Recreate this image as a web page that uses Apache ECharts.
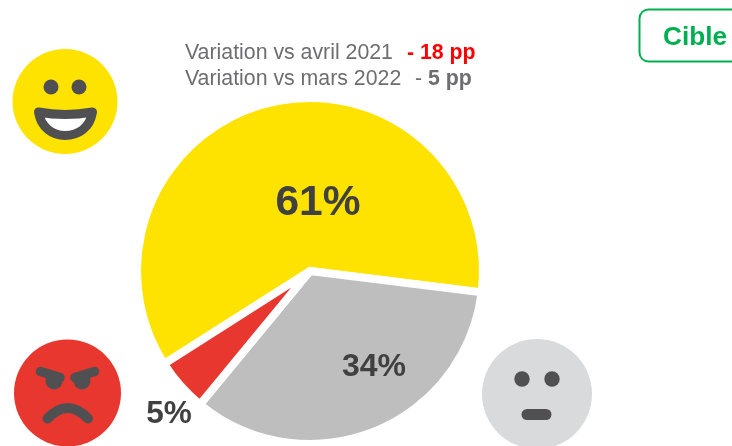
<!DOCTYPE html>
<html><head><meta charset="utf-8">
<style>html,body{margin:0;padding:0;background:#fff}#c{width:732px;height:446px}</style>
<script src="https://cdn.jsdelivr.net/npm/echarts@6/dist/echarts.min.js"></script>
</head><body><div id="c"></div>
<script>
const categories = ['Satisfaits', 'Neutres', 'Insatisfaits'];
const values = [61, 34, 5];
const sliceColors = ['#FFE300', '#BEBEBE', '#E8372E'];
const subtitleLine1 = ['Variation vs avril 2021', '- 18 pp'];
const subtitleLine2 = ['Variation vs mars 2022', '-', '5 pp'];
const targetLabel = 'Cible';

const FONT = '"Liberation Sans", Arial, sans-serif';
const INK = '#505052', TXT = '#404040', GREY = '#6E6E70';
const labelBoxes = [
  {x: 318, y: 203, size: 42.5},
  {x: 374, y: 367, size: 32},
  {x: 169, y: 414, size: 31.5}
];
echarts.graphic.registerShape('smileMouth',
  echarts.graphic.extendPath('M38.5 112 Q65 117 92.5 112 C90 128 78 135.5 65 135.5 C53 135.5 41 128 38.5 112 Z', {}));
echarts.graphic.registerShape('frownMouth',
  echarts.graphic.extendPath('M47.5 418.5 Q67.5 397.5 88 418.5', {}));
const circle = (cx, cy, r, fill) => ({type: 'circle', shape: {cx, cy, r}, style: {fill}});
function line(x1, y1, x2, y2, w) {
  return {type: 'line', shape: {x1, y1, x2, y2}, style: {stroke: INK, lineWidth: w, lineCap: 'round'}};
}
function txt(x, y, text, size, fill, bold) {
  return {type: 'text', x, y, style: {text, x: 0, y: 0, fill, font: (bold ? 'bold ' : '') + size + 'px ' + FONT,
          textAlign: 'left', textVerticalAlign: 'middle'}};
}
const chart = echarts.init(document.getElementById('c'), null, {renderer: 'canvas'});
chart.setOption({
  animation: false,
  backgroundColor: '#fff',
  series: [{
    type: 'pie',
    center: [310, 271],
    radius: [0, 173],
    startAngle: 212.5,
    clockwise: true,
    silent: true,
    data: categories.map((name, i) => ({
      name, value: values[i],
      itemStyle: {color: sliceColors[i]},
      label: {fontSize: labelBoxes[i].size}
    })),
    itemStyle: {borderColor: '#fff', borderWidth: 8},
    label: {
      show: true, position: 'inside', formatter: '{c}%',
      color: TXT, fontWeight: 'bold', fontFamily: FONT
    },
    labelLine: {show: false},
    labelLayout: p => ({x: labelBoxes[p.dataIndex].x, y: labelBoxes[p.dataIndex].y, align: 'center', verticalAlign: 'middle'})
  }],
  graphic: {elements: [
    // Happy face
    circle(65, 101.5, 52.5, '#FFE300'),
    circle(51, 87, 7.5, INK), circle(79, 87, 7.5, INK),
    {type: 'smileMouth', style: {fill: '#fff', stroke: INK, lineWidth: 9, lineJoin: 'round'}},
    // Angry face
    circle(67.5, 393, 53.5, '#E8372E'),
    line(40.5, 371.5, 60, 377.5, 9.5), line(94.5, 371.5, 75, 377.5, 9.5),
    circle(54, 381, 8.5, INK), circle(82, 381, 8.5, INK),
    {type: 'frownMouth', style: {fill: 'none', stroke: INK, lineWidth: 10, lineCap: 'round'}},
    // Neutral face
    circle(537, 394, 55, '#D9DADC'),
    circle(522, 379, 7.7, INK), circle(552, 379, 7.7, INK),
    {type: 'rect', shape: {x: 521.5, y: 409, width: 30, height: 11, r: 5.5}, style: {fill: INK}},
    // Sub-title lines
    txt(185, 53, subtitleLine1[0], 21.3, GREY, false),
    txt(407, 53, subtitleLine1[1], 21.3, '#FF0000', true),
    txt(185, 79, subtitleLine2[0], 21.3, GREY, false),
    txt(415, 79, subtitleLine2[1], 21.3, GREY, false),
    txt(428, 79, subtitleLine2[2], 21.3, GREY, true),
    // Target box
    {type: 'rect', shape: {x: 639.5, y: 9.5, width: 130, height: 52, r: 9},
     style: {fill: '#fff', stroke: '#00B050', lineWidth: 2}},
    txt(663, 38, targetLabel, 26.2, '#00B050', true)
  ]}
});
</script></body></html>
